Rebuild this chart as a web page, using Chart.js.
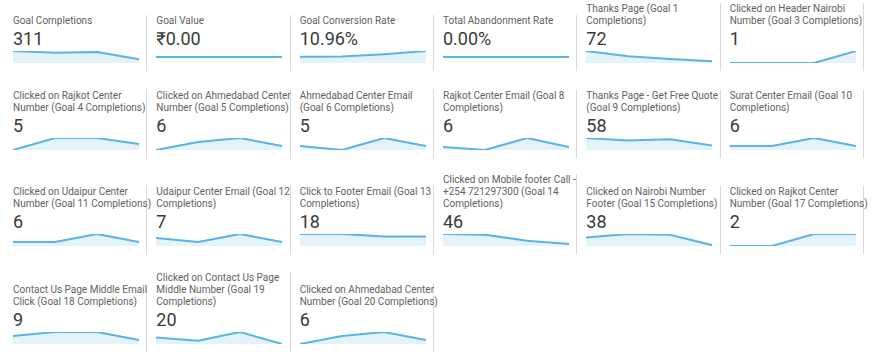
<!DOCTYPE html>
<html>
<head>
<meta charset="utf-8">
<script src="https://cdn.jsdelivr.net/npm/chart.js@4/dist/chart.umd.min.js"></script>
<style>
  html, body { margin: 0; padding: 0; background: #fff; }
  body { width: 885px; height: 360px; overflow: hidden; font-family: Roboto, "Noto Sans", sans-serif; }
  #board { position: absolute; left: 4px; top: 0; }
  .row { display: flex; align-items: flex-end; }
  .tile { box-sizing: border-box; width: 143.33px; flex: 0 0 143.33px; border-right: 1px solid #d9d9d9; padding: 0 7px 7px 9px; }
  .title { font-size: 10px; line-height: 12px; color: #616161; white-space: pre; }
  .value { font-size: 18px; line-height: 22px; height: 22px; margin-top: 1px; color: #3a3a3a; white-space: nowrap; }
  canvas { display: block; width: 126px; height: 14px; }
</style>
</head>
<body>
<div id="board"></div>
<script>
// Periods (four points per sparkline)
const periods = ['1', '2', '3', '4'];

// Tile titles (line breaks as in the reference)
const titles = [
  'Goal Completions',
  'Goal Value',
  'Goal Conversion Rate',
  'Total Abandonment Rate',
  'Thanks Page (Goal 1\nCompletions)',
  'Clicked on Header Nairobi\nNumber (Goal 3 Completions)',
  'Clicked on Rajkot Center\nNumber (Goal 4 Completions)',
  'Clicked on Ahmedabad Center\nNumber (Goal 5 Completions)',
  'Ahmedabad Center Email\n(Goal 6 Completions)',
  'Rajkot Center Email (Goal 8\nCompletions)',
  'Thanks Page - Get Free Quote\n(Goal 9 Completions)',
  'Surat Center Email (Goal 10\nCompletions)',
  'Clicked on Udaipur Center\nNumber (Goal 11 Completions)',
  'Udaipur Center Email (Goal 12\nCompletions)',
  'Click to Footer Email (Goal 13\nCompletions)',
  'Clicked on Mobile footer Call -\n+254 721297300 (Goal 14\nCompletions)',
  'Clicked on Nairobi Number\nFooter (Goal 15 Completions)',
  'Clicked on Rajkot Center\nNumber (Goal 17 Completions)',
  'Contact Us Page Middle Email\nClick (Goal 18 Completions)',
  'Clicked on Contact Us Page\nMiddle Number (Goal 19\nCompletions)',
  'Clicked on Ahmedabad Center\nNumber (Goal 20 Completions)'
];

// Headline values
const headlines = ['311', '₹0.00', '10.96%', '0.00%', '72', '1',
  '5', '6', '5', '6', '58', '6',
  '6', '7', '18', '46', '38', '2',
  '9', '20', '6'];

// Sparkline series
const goalCompletions   = [101, 86, 93, 31];
const goalValue         = [0, 0, 0, 0];
const conversionRate    = [7.4, 7.6, 10.4, 14.2];
const abandonmentRate   = [0, 0, 0, 0];
const goal1             = [35, 20, 12, 5];
const goal3             = [0, 0, 0, 1];
const goal4             = [0, 2, 2, 1];
const goal5             = [0, 2, 3, 1];
const goal6             = [1, 0, 3, 1];
const goal8             = [1, 0, 4, 1];
const goal9             = [19, 15, 17, 7];
const goal10            = [1, 1, 3, 1];
const goal11            = [1, 1, 3, 1];
const goal12            = [2, 1, 3, 1];
const goal13            = [5, 5, 4, 4];
const goal14            = [18, 17, 8, 3];
const goal15            = [10, 14, 13, 1];
const goal17            = [0, 0, 1, 1];
const goal18            = [2, 3, 3, 1];
const goal19            = [6, 3, 11, 0];
const goal20            = [0, 2, 3, 1];

const series = [goalCompletions, goalValue, conversionRate, abandonmentRate, goal1, goal3,
  goal4, goal5, goal6, goal8, goal9, goal10,
  goal11, goal12, goal13, goal14, goal15, goal17,
  goal18, goal19, goal20];

// Layout: tiles per row and gap above each row
const rowSizes = [6, 6, 6, 3];
const rowGaps = [3, 19, 16, 18];

const board = document.getElementById('board');
let idx = 0;
rowSizes.forEach((n, r) => {
  const row = document.createElement('div');
  row.className = 'row';
  row.style.marginTop = rowGaps[r] + 'px';
  for (let k = 0; k < n; k++, idx++) {
    const tile = document.createElement('div');
    tile.className = 'tile';
    const t = document.createElement('div');
    t.className = 'title';
    t.textContent = titles[idx];
    const v = document.createElement('div');
    v.className = 'value';
    v.textContent = headlines[idx];
    const c = document.createElement('canvas');
    c.width = 126; c.height = 14;
    tile.appendChild(t); tile.appendChild(v); tile.appendChild(c);
    row.appendChild(tile);

    const data = series[idx];
    const maxV = Math.max(...data);
    const allZero = maxV === 0;
    new Chart(c, {
      type: 'line',
      data: {
        labels: periods,
        datasets: [{
          data: data,
          borderColor: '#58b4e1',
          backgroundColor: '#e4f2fa',
          borderWidth: 2,
          fill: 'origin',
          pointRadius: 0,
          tension: 0,
          borderJoinStyle: 'round'
        }]
      },
      options: {
        responsive: false,
        maintainAspectRatio: false,
        devicePixelRatio: 1,
        animation: false,
        events: [],
        layout: { padding: { top: 1, bottom: 1, left: 0, right: 0 } },
        plugins: { legend: { display: false }, tooltip: { enabled: false } },
        scales: {
          x: { display: false, offset: false },
          y: allZero ? { display: false, min: -1, max: 1 } : { display: false, min: 0, max: maxV }
        }
      }
    });
  }
  board.appendChild(row);
});
</script>
</body>
</html>
